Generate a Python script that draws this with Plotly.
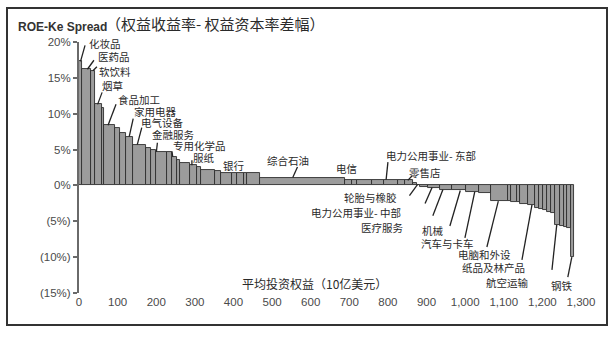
import numpy as np
import plotly.graph_objects as go

# ---------------- data ----------------
# average invested equity per industry ($bn) -> bar widths
equity_bn = [8, 23, 10, 18, 5, 28, 13, 16, 18, 34, 13, 13, 28, 13, 13, 8, 26, 18, 10, 36,
             18, 28, 13, 16, 10, 34, 220, 18, 13, 39, 31, 36, 16, 21, 10, 10, 21, 31, 31, 34,
             34, 31, 44, 10, 13, 10, 21, 18, 10, 10, 10, 10, 10, 13, 10, 8, 10, 8]
# ROE - Ke spread (%)
spread_pct = [17.3, 16.2, 16.0, 11.3, 10.8, 8.4, 8.0, 7.3, 6.8, 5.7, 5.2, 5.0, 4.7, 4.6, 4.0,
              3.5, 3.1, 2.8, 2.6, 2.2, 2.0, 1.8, 1.8, 1.7, 1.8, 1.7, 1.1, 0.7, 0.8, 0.8, 0.7,
              0.8, 0.8, 0.7, 0.3, 0.1, -0.2, -0.3, -0.6, -0.7, -0.9, -1.0, -2.2, -2.2, -2.3,
              -2.3, -2.6, -2.7, -3.2, -3.3, -3.4, -3.7, -3.9, -5.5, -5.7, -5.8, -5.9, -10.0]
# labelled industries (bar index -> name)
industry = {0: "化妆品", 1: "医药品", 2: "软饮料", 3: "烟草", 5: "食品加工", 8: "家用电器",
            9: "电气设备", 12: "金融服务", 14: "专用化学品", 17: "服纸", 21: "银行",
            26: "综合石油", 28: "电信", 31: "电力公用事业- 东部", 33: "零售店",
            35: "轮胎与橡胶", 37: "电力公用事业- 中部", 38: "医疗服务", 39: "机械",
            40: "汽车与卡车", 42: "电脑和外设", 47: "纸品及林产品", 53: "航空运输", 57: "钢铁"}

x_ticks = list(range(0, 1301, 100))
y_ticks = [-15, -10, -5, 0, 5, 10, 15, 20]
y_ticktext = ["(15%)", "(10%)", "(5%)", "0%", "5%", "10%", "15%", "20%"]

# ---------------- layout geometry ----------------
W, H = 616, 337
ML, MR, MT, MB = 79, 35, 42, 44
PW, PH = W - ML - MR, H - MT - MB
XR = [0, 1300]
YR = [-15, 20]
sx = PW / (XR[1] - XR[0])        # px per unit
sy = PH / (YR[1] - YR[0])        # px per %

def pxp(px):   # pixel -> paper x
    return (px - ML) / PW

def pyp(py):   # pixel -> paper y
    return (H - MB - py) / PH

w = np.array(equity_bn, dtype=float)
v = np.array(spread_pct, dtype=float)
left = np.concatenate([[0], np.cumsum(w)[:-1]])
centers = left + w / 2

fig = go.Figure()
fig.add_trace(go.Bar(
    x=centers, y=v, width=w,
    marker=dict(color="#9c9c9c", line=dict(color="#2e2e2e", width=0.9)),
    hoverinfo="skip", showlegend=False,
))

# text placement (left px, centre py) and leader (fraction along bar, tail offset px)
label_layout = {
    0: (88, 43, 0.5, 4.5, -16), 1: (97, 57, 0.6, 6.5, -9), 2: (98, 71, 0.5, 4, -4),
    3: (101, 86, 0.4, 4.5, -12), 5: (117, 99, 0.4, 8, -21), 8: (133, 111, 0.5, 4, -18),
    9: (140, 122, 0.35, 4.5, -17), 12: (151, 134, 0.05, 1, -9), 14: (172, 145, 0.2, -0.7, -5.5),
    17: (192, 157, 0.3, 0, -5), 21: (222, 165, None, 0, 0), 26: (266, 160, 0.38, 4.7, -10.5),
    28: (335, 168, None, 0, 0), 31: (385, 155, 0.12, 1.8, -17.5), 33: (408, 172, 0.4, 4.2, -4.4),
    35: (343, 197, 0.25, -8, 11), 37: (310, 212, 0.3, -7, 16), 38: (360, 227, 0.2, -10, 26),
    39: (421, 230, 0.6, -10.4, 35.5), 40: (420, 243, 0.7, -9.8, 46), 42: (457, 254, 0.45, -11.4, 45.8),
    47: (461, 267, 0.5, -10, 55), 53: (485, 282, 0.4, -4.8, 45), 57: (550, 285, 0.4, -4, 20),
}

cjk = "Noto Sans CJK SC"
annotations = []
shapes = []
for idx, name in industry.items():
    tx, ty, frac, dx, dy = label_layout[idx]
    annotations.append(dict(text=name, xref="paper", yref="paper", x=pxp(tx), y=pyp(ty),
                            xanchor="left", yanchor="middle", showarrow=False, borderpad=0,
                            font=dict(family=cjk, size=10.5, color="#2a2a2a")))
    if frac is not None:
        x_tip = left[idx] + frac * w[idx]
        y_tip = v[idx]
        shapes.append(dict(type="line", xref="x", yref="y",
                           x0=x_tip, y0=y_tip, x1=x_tip + dx / sx, y1=y_tip - dy / sy,
                           line=dict(color="#222222", width=1.3), layer="above"))

# titles
annotations.append(dict(text="<b>ROE-Ke Spread</b>", xref="paper", yref="paper",
                        x=pxp(16), y=pyp(27), xanchor="left", yanchor="middle", showarrow=False,
                        font=dict(family="Liberation Sans, Arial", size=12, color="#333333")))
annotations.append(dict(text="（权益收益率- 权益资本率差幅）", xref="paper", yref="paper",
                        x=pxp(104), y=pyp(23), xanchor="left", yanchor="middle", showarrow=False,
                        font=dict(family=cjk, size=15, color="#2a2a2a")))
annotations.append(dict(text="平均投资权益（10亿美元）", xref="paper", yref="paper",
                        x=pxp(240), y=pyp(283), xanchor="left", yanchor="middle", showarrow=False,
                        font=dict(family=cjk, size=12, color="#2a2a2a")))

# outer frame
shapes.append(dict(type="rect", xref="paper", yref="paper",
                   x0=pxp(7), x1=pxp(607), y0=pyp(325), y1=pyp(8),
                   line=dict(color="#333333", width=2), fillcolor="rgba(0,0,0,0)", layer="below"))

fig.update_layout(
    width=W, height=H,
    margin=dict(l=ML, r=MR, t=MT, b=MB, pad=0),
    paper_bgcolor="white", plot_bgcolor="white",
    bargap=0,
    annotations=annotations, shapes=shapes,
    xaxis=dict(range=XR, tickvals=x_ticks, tickformat=",", showgrid=False, zeroline=False,
               showline=False, ticks="", fixedrange=True,
               tickfont=dict(family="Liberation Sans, Arial", size=11.5, color="#4a4a4a")),
    yaxis=dict(range=YR, tickvals=y_ticks, ticktext=y_ticktext, showgrid=False, zeroline=False,
               showline=True, linecolor="#6a6a6a", linewidth=2, ticks="outside", ticklen=4,
               tickcolor="#6a6a6a", tickwidth=1.5, fixedrange=True,
               tickfont=dict(family="Liberation Sans, Arial", size=11.5, color="#4a4a4a")),
)

fig.write_html("out.html")
